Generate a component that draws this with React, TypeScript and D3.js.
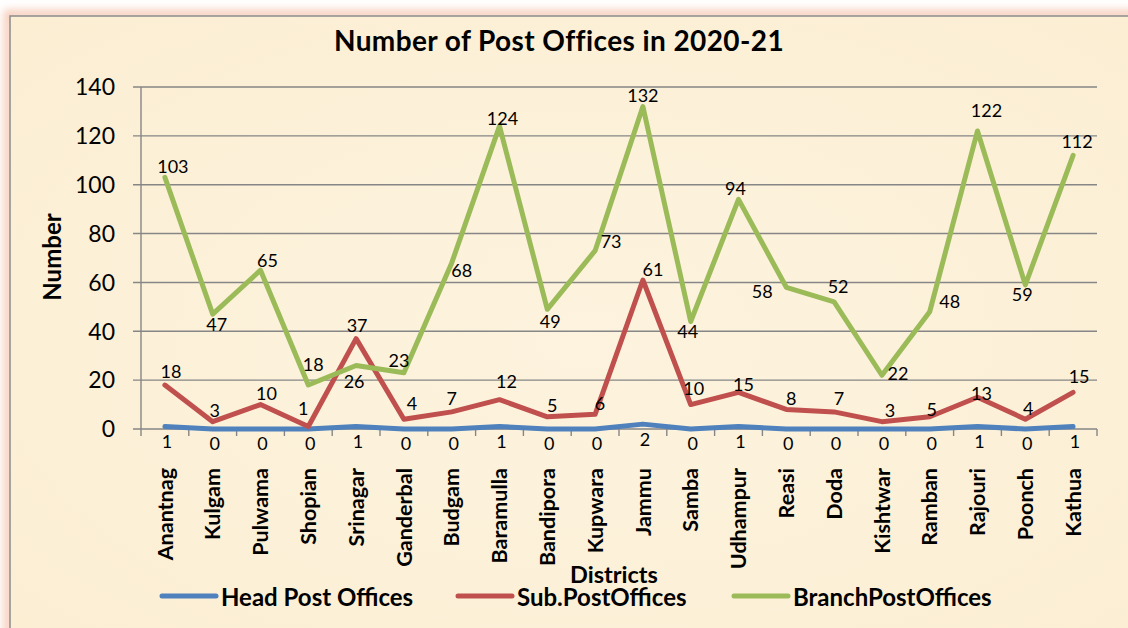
import React from "react";
import * as d3 from "d3";

const districts = ["Anantnag","Kulgam","Pulwama","Shopian","Srinagar","Ganderbal","Budgam","Baramulla","Bandipora","Kupwara","Jammu","Samba","Udhampur","Reasi","Doda","Kishtwar","Ramban","Rajouri","Poonch","Kathua"];
const headPostOffices = [1,0,0,0,1,0,0,1,0,0,2,0,1,0,0,0,0,1,0,1];
const subPostOffices = [18,3,10,1,37,4,7,12,5,6,61,10,15,8,7,3,5,13,4,15];
const branchPostOffices = [103,47,65,18,26,23,68,124,49,73,132,44,94,58,52,22,48,122,59,112];
const yTicks = [0,20,40,60,80,100,120,140];

// relative label offsets (label centre minus point)
const branchLabelOffsets: [number, number][] = [[8,-11],[4,10],[7,-10],[5,-21],[-2,16],[-5,-12],[10,8],[3,-8],[3,12],[16,-9],[0,-11],[-3,10],[-3,-11],[-24,4],[4,-15],[16,-2],[20,-10],[9,-20],[-3,10],[4,-14]];
const subLabelOffsets: [number, number][] = [[6,-14],[2,-11],[6,-11],[-5,-18],[1,-13],[8,-16],[0,-13],[7,-18],[5,-11],[5,-11],[10,-10],[3,-16],[5,-8],[5,-11],[5,-13],[8,-11],[2,-7],[4,-4],[3,-11],[6,-16]];
const headLabelOffset: [number, number] = [2, 15];

const W = 1128, H = 628;
const M = { left: 141, right: 1097, top: 87, bottom: 429 };
const FONT = "Lato, 'Open Sans', sans-serif";

export default function App() {
  const x = d3.scaleBand<string>().domain(districts).range([M.left, M.right]);
  const cx = (d: string) => (x(d) as number) + x.bandwidth() / 2;
  const y = d3.scaleLinear().domain([0, 140]).range([M.bottom, M.top]);

  const series = [
    { name: "Head Post Offices", values: headPostOffices, color: "#4F81BD", offsets: districts.map(() => headLabelOffset) },
    { name: "Sub.PostOffices", values: subPostOffices, color: "#C0504D", offsets: subLabelOffsets },
    { name: "BranchPostOffices", values: branchPostOffices, color: "#9BBB59", offsets: branchLabelOffsets },
  ];

  const line = d3.line<number>().x((_, i) => cx(districts[i])).y((v) => y(v));

  const boundaries = districts.map((d) => x(d) as number).concat([M.right]);

  const legendItems = [
    { name: series[0].name, color: series[0].color, x0: 162 },
    { name: series[1].name, color: series[1].color, x0: 458 },
    { name: series[2].name, color: series[2].color, x0: 734 },
  ];

  return (
    <svg width={W} height={H} style={{ position: "absolute", left: 0, top: 0, fontFamily: FONT }}>
      <defs>
        <filter id="glow" x="-5%" y="-5%" width="110%" height="110%">
          <feGaussianBlur stdDeviation="4" />
        </filter>
        <radialGradient id="bg" cx="50%" cy="50%" r="70%">
          <stop offset="0%" stopColor="#fdf3de" />
          <stop offset="100%" stopColor="#fbeed3" />
        </radialGradient>
      </defs>
      <rect x={0} y={0} width={W} height={H} fill="#ffffff" />
      <rect x={8} y={14} width={W + 20} height={H + 20} fill="none" stroke="#f6c9b4" strokeWidth={8} filter="url(#glow)" />
      <rect x={10} y={16} width={W + 20} height={H + 20} fill="url(#bg)" stroke="#8c8c8c" strokeWidth={1.5} />

      {/* title */}
      <text x={559} y={51} textAnchor="middle" fontSize={28} fontWeight="bold" letterSpacing={0.4} fill="#000">
        Number of Post Offices in 2020-21
      </text>

      {/* gridlines */}
      {yTicks.map((t) => (
        <line key={"g" + t} x1={M.left - 8} x2={M.right} y1={y(t)} y2={y(t)} stroke="#868686" strokeWidth={1.4} />
      ))}
      {/* y axis */}
      <line x1={M.left} x2={M.left} y1={M.top} y2={M.bottom} stroke="#868686" strokeWidth={1.4} />
      {yTicks.map((t) => (
        <text key={"yt" + t} x={115} y={y(t)} dy="0.36em" textAnchor="end" fontSize={23} fill="#000">
          {t}
        </text>
      ))}
      {/* x axis ticks */}
      {boundaries.map((b, i) => (
        <line key={"xt" + i} x1={b} x2={b} y1={M.bottom} y2={M.bottom + 7} stroke="#868686" strokeWidth={1.4} />
      ))}

      {/* y title */}
      <text transform={`translate(52,257) rotate(-90)`} textAnchor="middle" dy="0.36em" fontSize={24} fontWeight="bold" fill="#000">
        Number
      </text>

      {/* x labels */}
      {districts.map((d) => (
        <text key={"xl" + d} transform={`translate(${cx(d)},468) rotate(-90)`} textAnchor="end" dy="0.36em" fontSize={21.5} fontWeight="bold" fill="#000">
          {d}
        </text>
      ))}

      <text x={614} y={575} dy="0.36em" textAnchor="middle" fontSize={23.5} fontWeight="bold" fill="#000">
        Districts
      </text>

      {/* lines */}
      {series.map((s) => (
        <path key={s.name} d={line(s.values) || ""} fill="none" stroke={s.color} strokeWidth={5} strokeLinejoin="round" strokeLinecap="round" />
      ))}

      {/* data labels */}
      {series.map((s) =>
        s.values.map((v, i) => (
          <text
            key={s.name + i}
            x={cx(districts[i]) + s.offsets[i][0]}
            y={y(v) + s.offsets[i][1]}
            dy="0.36em"
            textAnchor="middle"
            fontSize={18}
            fill="#000"
          >
            {v}
          </text>
        ))
      )}

      {/* legend */}
      {legendItems.map((l) => (
        <g key={"lg" + l.name}>
          <line x1={l.x0} x2={l.x0 + 54} y1={596} y2={596} stroke={l.color} strokeWidth={5} strokeLinecap="round" />
          <text x={l.x0 + 59} y={597} dy="0.36em" fontSize={24} fontWeight="bold" fill="#000">
            {l.name}
          </text>
        </g>
      ))}
    </svg>
  );
}
